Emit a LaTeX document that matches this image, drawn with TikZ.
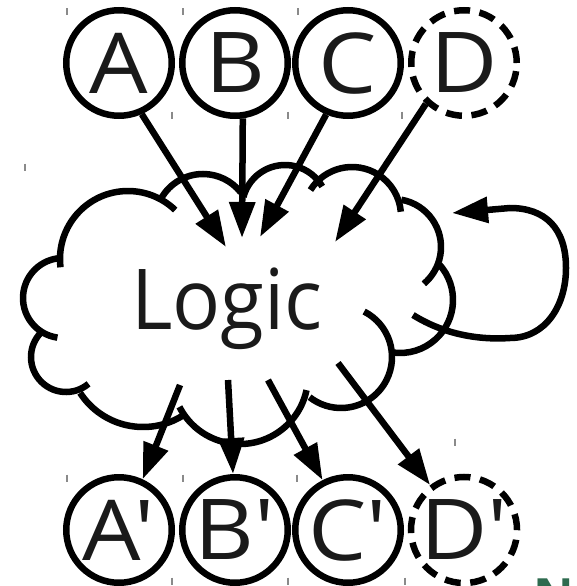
\documentclass[tikz,border=0pt]{standalone}
\usepackage{fontspec}
\setmainfont{Open Sans}
\newfontfamily\lblfont[Ligatures=TeXOff,FakeStretch=1.1]{Open Sans}
\newfontfamily\logicfont[FakeStretch=0.95]{Open Sans}
\newfontfamily\markfont{Open Sans}
\usetikzlibrary{arrows.meta}
\definecolor{ink}{HTML}{1A1A1A}
\definecolor{leaf}{HTML}{2E6B4F}
\definecolor{tickgray}{HTML}{8A8A8A}

% one lobe of the cloud: centre x, centre y (downwards), radius, start angle, end angle
\newcommand\cloudlobe[5]{%
  \draw[cloudline] ([shift={(#4:#3)}]#1,-#2) arc[start angle=#4,end angle=#5,radius=#3];}

\begin{document}
\begin{tikzpicture}[x=1pt,y=1pt,
  var/.style={circle,draw=black,line width=6.5pt,minimum size=105.5pt,inner sep=0pt,
    font=\lblfont\fontsize{84}{84}\selectfont,text=ink},
  dontcare/.style={var,dash pattern=on 16pt off 9.6pt},
  arr/.style={line width=6.5pt,-{Triangle[length=36pt,width=25pt]}},
  cloudline/.style={line width=6.5pt},
  tickmark/.style={draw=tickgray,line width=1.2pt},
]
\useasboundingbox (0,0) rectangle (577,-586);

% inputs
\node[var]      (A) at (119,-63) {A};
\node[var]      (B) at (235,-63) {B};
\node[var]      (C) at (348,-63) {C};
\node[dontcare] (D) at (464,-63) {D};

% outputs
\node[var]      (A2) at (119,-530) {A'};
\node[var]      (B2) at (235,-530) {B'};
\node[var]      (C2) at (348,-530) {C'};
\node[dontcare] (D2) at (464,-530) {D'};

% the cloud
\cloudlobe{128}{259}{68}{187}{46}
\cloudlobe{203}{222}{48}{150}{38}
\cloudlobe{285}{208}{43}{165}{30}
\cloudlobe{352}{216}{49}{148}{5}
\cloudlobe{393}{247}{48}{80}{-50}
\cloudlobe{400}{300}{53}{42}{-98}
\cloudlobe{341}{357}{51}{63}{-128}
\cloudlobe{240}{376}{68}{-12}{-153}
\cloudlobe{143}{352}{75}{-58}{-147}
\cloudlobe{66}{357}{35}{310}{130}
\cloudlobe{63}{298}{40}{262}{94}

\node[anchor=base,inner sep=0pt,text=ink,font=\logicfont\fontsize{84}{84}\selectfont]
  (logic) at (227,-329) {Logic};

% arrow ends inside the cloud
\coordinate (tA) at (226,-247);
\coordinate (tB) at (242,-238);
\coordinate (tC) at (260,-237);
\coordinate (tD) at (335,-242);
\coordinate (sA) at (180,-385);
\coordinate (sB) at (228,-380);
\coordinate (sC) at (268,-380);
\coordinate (sD) at (338,-363);
\coordinate (sL) at (413,-315);
\coordinate (tL) at (452,-213);

\draw[arr] (A.-66)  -- (tA);
\draw[arr] (B.-82)  -- (tB);
\draw[arr] (C.-113) -- (tC);
\draw[arr] (D.-133) -- (tD);

\draw[arr] (sA) -- (A2.65);
\draw[arr] (sB) -- (B2.92);
\draw[arr] (sC) -- (C2.117);
\draw[arr] (sD) -- (D2.127);

% feedback loop
\draw[arr] (sL) .. controls (445,-335) and (480,-340) .. (510,-338)
  .. controls (546,-338) and (566,-305) .. (566,-268)
  .. controls (566,-228) and (545,-208) .. (510,-208) -- (tL);

% small register marks
\foreach \x/\y in {67/12,183/12,298/12,172/115,288/115,402/115,25/167,
                   67/478,183/478,297/478,172/581,288/581,405/581,455/442}
  \draw[tickmark] (\x,-\y+3.5) -- (\x,-\y-3.5);

\node[anchor=base west,inner sep=0pt,text=leaf,
  font=\markfont\bfseries\fontsize{50}{50}\selectfont] (mark) at (533,-614) {N};
\end{tikzpicture}
\end{document}
